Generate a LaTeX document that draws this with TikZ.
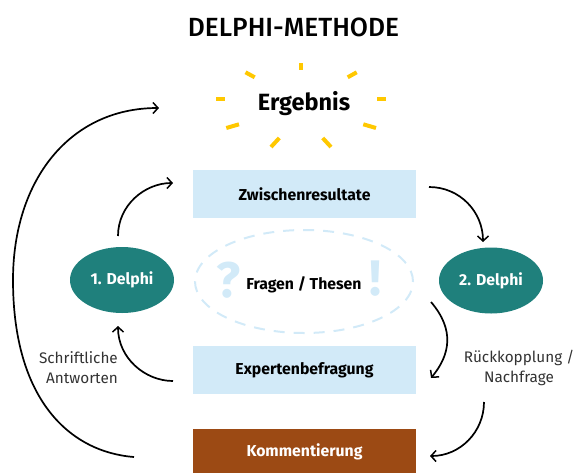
\documentclass[tikz,border=0pt]{standalone}
\usepackage{fontspec}
\usepackage{xcolor}
\usetikzlibrary{arrows.meta}
\setmainfont{Fira Sans}
\newfontfamily\titlefont{Fira Sans Medium}
\definecolor{hellblau}{HTML}{D2EAF8}
\definecolor{petrol}{HTML}{1F807C}
\definecolor{braun}{HTML}{9C4A14}
\definecolor{sonne}{HTML}{FFC800}
\tikzset{
	balken/.style={minimum width=223pt,inner sep=0pt,font=\fontsize{15.8}{17}\selectfont\bfseries},
	runde/.style={ellipse,fill=petrol,text=white,minimum width=104pt,minimum height=66pt,inner sep=0pt,font=\fontsize{15.8}{17}\selectfont\bfseries},
	notiz/.style={inner sep=0pt,text=black!80,font=\fontsize{15.3}{20.5}\selectfont},
	pfeil/.style={black,line width=1.7pt,-{Straight Barb[length=5pt,width=11pt,line width=1.5pt]}},
	strahl/.style={sonne,line width=4pt}
}
\usetikzlibrary{shapes.geometric}
\begin{document}
\begin{tikzpicture}[x=1pt,y=-1pt]
	\useasboundingbox (0,0) rectangle (575,472);
	\node [inner sep=0pt,font=\fontsize{26.3}{28}\selectfont\titlefont] (titel) at (293.5,27) {DELPHI-METHODE};
	\node [inner sep=0pt,font=\fontsize{23.5}{25}\selectfont\bfseries] (ergebnis) at (304,104) {Ergebnis};
	\draw [strahl] (301,63) -- (301,70);
	\draw [strahl] (245.5,72.3) -- (254.7,77.3);
	\draw [strahl] (356.7,72.3) -- (347.7,77.3);
	\draw [strahl] (216,98.7) -- (225.3,98.7);
	\draw [strahl] (386,98.7) -- (376.7,98.7);
	\draw [strahl] (226.3,128) -- (239,124.3);
	\draw [strahl] (376,128) -- (363.3,124.3);
	\draw [strahl] (271,147) -- (279.3,138);
	\draw [strahl] (331,147) -- (322.7,138);
	\node [balken,fill=hellblau,minimum height=48pt] (zwischen) at (304.5,194) {Zwischenresultate};
	\node [balken,fill=hellblau,minimum height=48pt] (experten) at (304.5,370) {Expertenbefragung};
	\node [balken,fill=braun,text=white,minimum height=46pt] (kommentierung) at (304.5,452) {Kommentierung};
	\node [runde] (delphieins) at (122,280) {1. Delphi};
	\node [runde] (delphizwei) at (491,280.5) {2. Delphi};
	\node [ellipse,draw=hellblau,line width=2pt,dash pattern=on 11pt off 9pt,minimum width=218pt,minimum height=103pt,inner sep=0pt] (thesenrund) at (304,281.5) {};
	\node [inner sep=0pt,font=\fontsize{15.8}{17}\selectfont\bfseries] (thesen) at (304,285) {Fragen / Thesen};
	\node [inner sep=0pt,text=hellblau,font=\fontsize{50}{50}\selectfont\bfseries] (frage) at (229,280) {?};
	\node [inner sep=0pt,text=hellblau,font=\fontsize{50}{50}\selectfont\bfseries] (ausruf) at (375,279) {!};
	\node [notiz,align=right,anchor=east] (antworten) at (118,367.5) {Schriftliche\\Antworten};
	\node [notiz,align=center] (rueckkopplung) at (519,368) {Rückkopplung /\\Nachfrage};
	\draw [pfeil] ([shift={(-4,-44)}]delphieins.center) .. controls (118,205) and (145,183) .. ([shift={(-131.5,-11)}]zwischen.center);
	\draw [pfeil] ([shift={(-131.5,11)}]experten.center) .. controls (145,381) and (118,358) .. ([shift={(-4,46)}]delphieins.center);
	\draw [pfeil] ([shift={(124.5,-7)}]zwischen.center) .. controls (460,187) and (483,212) .. ([shift={(-8,-38.5)}]delphizwei.center);
	\draw [pfeil] ([shift={(-60,21.5)}]delphizwei.center) .. controls (455,330) and (450,355) .. ([shift={(126.5,8)}]experten.center);
	\draw [pfeil] ([shift={(-35,34)}]rueckkopplung.center) .. controls (484,432) and (460,456) .. ([shift={(125.5,4)}]kommentierung.center);
	\coordinate (bogen) at (13,280);
	\draw [pfeil] ([shift={(-170.5,5)}]kommentierung.center) .. controls (70,452) and (13,400) .. (bogen) .. controls (13,180) and (70,108) .. ([shift={(-145,4)}]ergebnis.center);
\end{tikzpicture}
\end{document}
